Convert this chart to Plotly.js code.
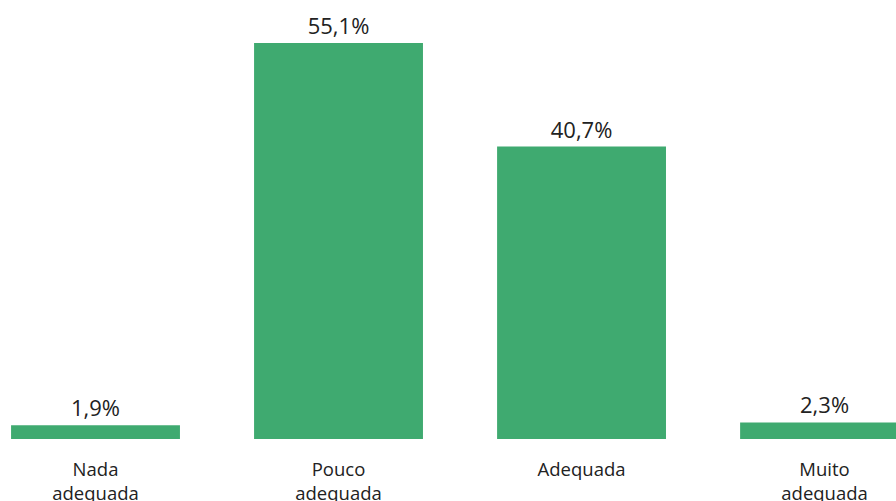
<!DOCTYPE html>
<html>
<head>
<meta charset="utf-8">
<script src="https://cdn.plot.ly/plotly-3.0.1.min.js"></script>
<style>html,body{margin:0;padding:0;background:#fff;}#chart{width:896px;height:501px;}</style>
</head>
<body>
<div id="chart"></div>
<script>
const categories = ["Nada adequada", "Pouco adequada", "Adequada", "Muito adequada"];
const tickLabels = ["Nada<br>adequada", "Pouco<br>adequada", "Adequada", "Muito<br>adequada"];
const values = [1.9, 55.1, 40.7, 2.3];

const trace = {
  type: 'bar',
  x: categories,
  y: values,
  marker: {color: '#3FAA70'},
  texttemplate: '%{y:.1f}%',
  textposition: 'outside',
  textfont: {family: 'Open Sans, sans-serif', size: 22, color: '#222222'},
  cliponaxis: false,
  hoverinfo: 'none'
};

const layout = {
  width: 896, height: 501,
  margin: {l: 0, r: 0, t: 0, b: 62, pad: 0},
  paper_bgcolor: '#ffffff', plot_bgcolor: '#ffffff',
  separators: ',.',
  showlegend: false,
  bargap: 0.305,
  font: {family: 'Open Sans, sans-serif', color: '#222222'},
  xaxis: {
    type: 'category',
    range: [-0.393, 3.294],
    tickvals: categories,
    ticktext: tickLabels,
    showline: false, showgrid: false, zeroline: false, ticks: '',
    tickfont: {family: 'Open Sans, sans-serif', size: 18.5, color: '#222222'},
    ticklabelstandoff: 17,
    fixedrange: true
  },
  yaxis: {
    range: [0, 61.1],
    visible: false,
    showgrid: false, zeroline: false,
    fixedrange: true
  }
};

Plotly.newPlot('chart', [trace], layout, {displayModeBar: false, staticPlot: true});
</script>
</body>
</html>
